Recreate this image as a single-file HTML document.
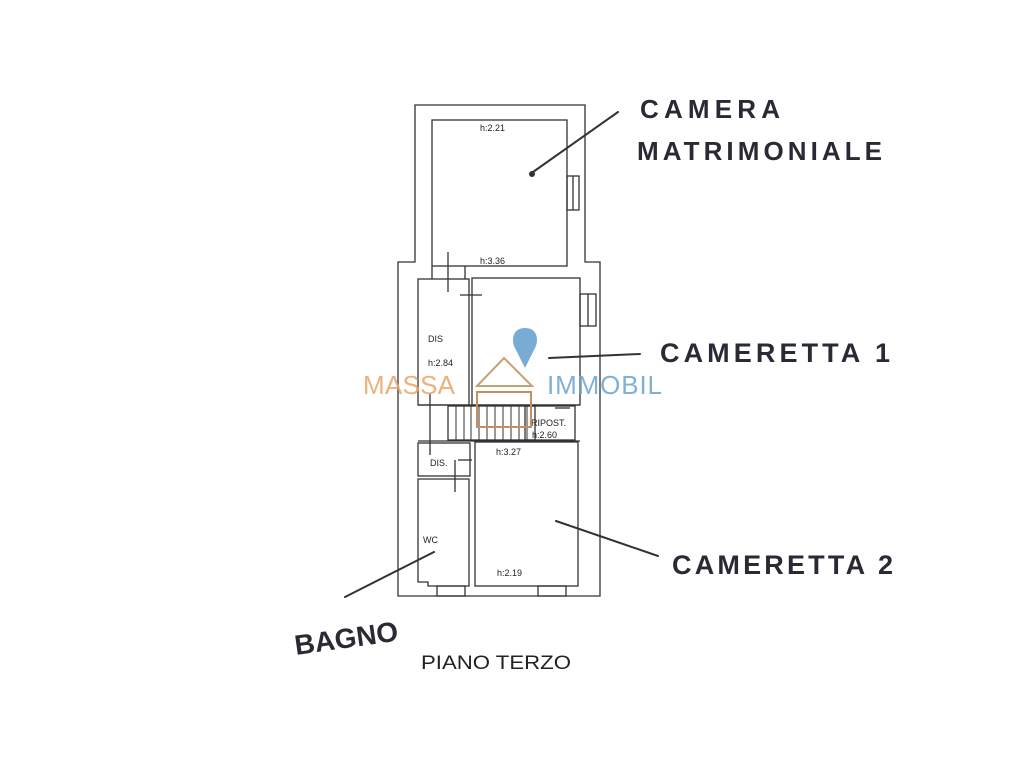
<!DOCTYPE html>
<html><head><meta charset="utf-8"><style>
html,body{margin:0;padding:0;background:#fff;width:1024px;height:768px;overflow:hidden}
</style></head><body>
<svg width="1024" height="768" viewBox="0 0 1024 768" xmlns="http://www.w3.org/2000/svg" font-family="Liberation Sans, sans-serif">
<g fill="none" stroke="#333" stroke-width="1.3">
<path d="M415 105 H585 V262 H600 V596 H398 V262 H415 Z"/>
<rect x="432" y="120" width="135" height="146"/>
<line x1="432" y1="266" x2="432" y2="279"/>
<line x1="465" y1="266" x2="465" y2="279"/>
<rect x="418" y="279" width="51" height="126"/>
<rect x="472" y="278" width="108" height="127"/>
<line x1="418" y1="405" x2="580" y2="405"/>
<line x1="418" y1="441" x2="580" y2="441"/>
<rect x="448" y="406" width="87" height="34"/>
<g stroke-width="1">
<line x1="456" y1="406" x2="456" y2="440"/><line x1="464" y1="406" x2="464" y2="440"/>
<line x1="471" y1="406" x2="471" y2="440"/><line x1="479" y1="406" x2="479" y2="440"/>
<line x1="487" y1="406" x2="487" y2="440"/><line x1="495" y1="406" x2="495" y2="440"/>
<line x1="503" y1="406" x2="503" y2="440"/><line x1="511" y1="406" x2="511" y2="440"/>
<line x1="519" y1="406" x2="519" y2="440"/><line x1="527" y1="406" x2="527" y2="440"/>
</g>
<rect x="525" y="406" width="50" height="34"/>
<rect x="418" y="443" width="52" height="33"/>
<path d="M418 479 H469 V586 H428 V582 H418 Z"/>
<rect x="475" y="442" width="103" height="144"/>
<rect x="567" y="176" width="12" height="34"/>
<line x1="573" y1="176" x2="573" y2="210"/>
<rect x="580" y="294" width="16" height="32"/>
<line x1="588" y1="294" x2="588" y2="326"/>
<rect x="437" y="586" width="28" height="10"/>
<rect x="538" y="586" width="28" height="10"/>
<line x1="448" y1="252" x2="448" y2="292"/>
<line x1="460" y1="295" x2="482" y2="295"/>
<line x1="430" y1="394" x2="430" y2="455"/>
<line x1="458" y1="460" x2="472" y2="460"/>
<line x1="455" y1="460" x2="455" y2="492"/>
<line x1="555" y1="408" x2="570" y2="408"/>
</g>
<g font-size="9" fill="#222">
<text x="480" y="131">h:2.21</text>
<text x="480" y="264">h:3.36</text>
<text x="428" y="342">DIS</text>
<text x="428" y="366">h:2.84</text>
<text x="531" y="426">RIPOST.</text>
<text x="532" y="438">h:2.60</text>
<text x="496" y="455">h:3.27</text>
<text x="430" y="466">DIS.</text>
<text x="423" y="543">WC</text>
<text x="497" y="576">h:2.19</text>
</g>
<text x="363" y="394" font-size="26" fill="#eaa468" opacity="0.85" textLength="92">MASSA</text>
<text x="547" y="394" font-size="26" fill="#6aa3cf" opacity="0.85" textLength="115">IMMOBIL</text>
<path d="M477 386 L504 358 L532 386 Z" fill="none" stroke="#c7a070" stroke-width="2"/>
<rect x="477" y="392" width="54" height="35" fill="none" stroke="#c49060" stroke-width="2"/>
<path d="M525 328 c-10 0 -14 8 -11 18 l11 22 l11 -22 c3 -10 -1 -18 -11 -18z" fill="#6aa3cf" opacity="0.9"/>
<g stroke="#333" stroke-width="2" fill="none" stroke-linecap="round">
<path d="M533 172 L618 112"/>
<path d="M549 358 L640 354"/>
<path d="M556 521 L658 556"/>
<path d="M345 597 L434 552"/>
</g>
<circle cx="532" cy="174" r="3" fill="#333"/>
<g fill="#2a2a35" font-weight="600" font-family="Liberation Sans, sans-serif">
<text x="640" y="118" font-size="26" textLength="140" lengthAdjust="spacing">CAMERA</text>
<text x="637" y="160" font-size="26" textLength="245" lengthAdjust="spacing">MATRIMONIALE</text>
<text x="660" y="362" font-size="27" textLength="230" lengthAdjust="spacing">CAMERETTA 1</text>
<text x="672" y="574" font-size="27" textLength="221" lengthAdjust="spacing">CAMERETTA 2</text>
<text x="296" y="655" font-size="28" transform="rotate(-8 296 655)">BAGNO</text>
</g>
<text x="421" y="669" font-size="19" fill="#222" textLength="150" lengthAdjust="spacingAndGlyphs">PIANO TERZO</text>
</svg>
</body></html>
